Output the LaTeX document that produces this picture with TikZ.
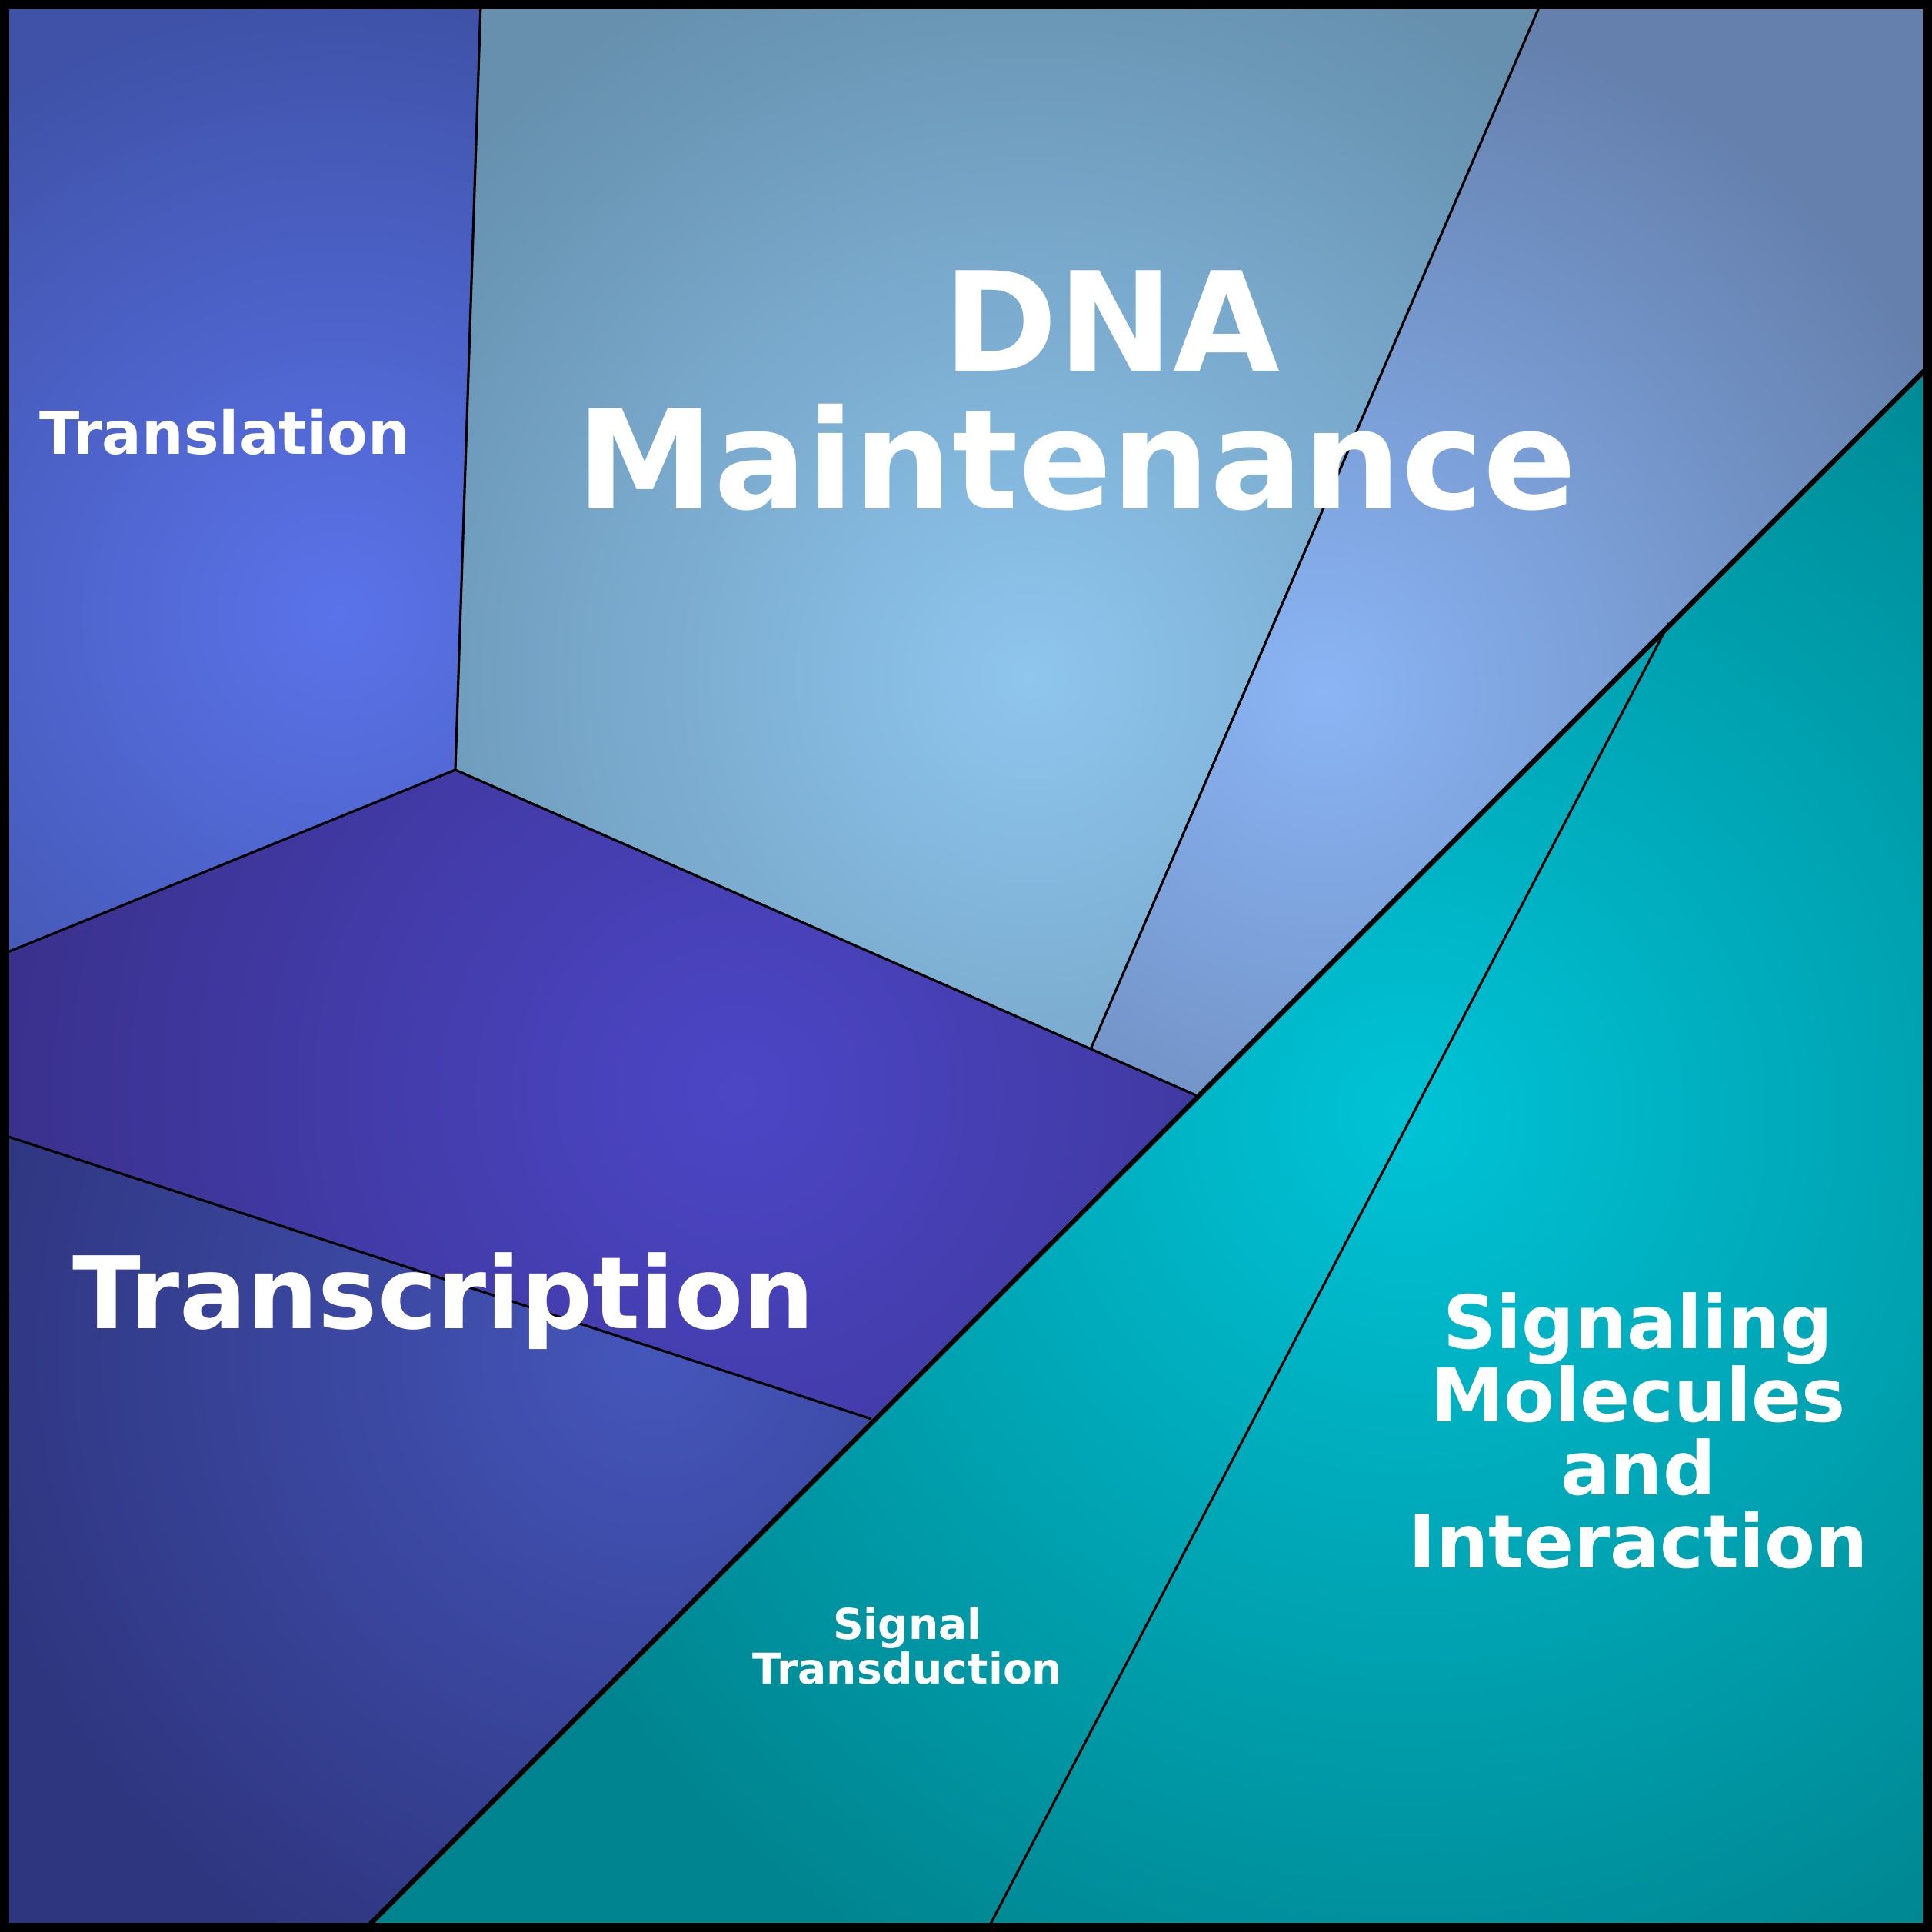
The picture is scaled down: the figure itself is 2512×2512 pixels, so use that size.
\documentclass[tikz,border=0pt]{standalone}
\usepackage{fontspec}
\setmainfont{DejaVu Sans}
\begin{document}
\begin{tikzpicture}[x=0.01cm,y=-0.01cm,
  lbl/.style={text=white,font=\bfseries,align=center,inner sep=0pt},
  edge/.style={line width=0.9pt}]
\useasboundingbox (0,0) rectangle (2512,2512);
\newcommand{\cell}[5]{%
  \begin{scope}\clip #1;
  \fill[#3] (0,0) rectangle (2512,2512);
  \shade[inner color=#2,outer color=#3] #4 circle (#5);
  \end{scope}}
\definecolor{trA}{HTML}{5B73EA}\definecolor{trB}{HTML}{3F52A8}
\definecolor{dnA}{HTML}{8FC6EE}\definecolor{dnB}{HTML}{6690AE}
\definecolor{rbA}{HTML}{8BB5F5}\definecolor{rbB}{HTML}{6580AD}
\definecolor{tsA}{HTML}{4C46C6}\definecolor{tsB}{HTML}{39308A}
\definecolor{tbA}{HTML}{4556BB}\definecolor{tbB}{HTML}{2F3680}
\definecolor{sgA}{HTML}{00C3D6}\definecolor{sgB}{HTML}{00848F}
\cell{(5,5)--(625,5)--(592,1001)--(5,1240)--cycle}{trA}{trB}{(440,800)}{800}
\cell{(625,5)--(2003,5)--(1418,1364)--(592,1001)--cycle}{dnA}{dnB}{(1340,880)}{1000}
\cell{(2003,5)--(2507,5)--(2507,477)--(1555,1424)--(1418,1364)--cycle}{rbA}{rbB}{(1720,900)}{900}
\cell{(5,1240)--(592,1001)--(1555,1424)--(1133,1845)--(5,1476)--cycle}{tsA}{tsB}{(960,1420)}{1000}
\cell{(5,1476)--(1133,1845)--(476,2507)--(5,2507)--cycle}{tbA}{tbB}{(850,1760)}{900}
\cell{(1555,1424)--(2170,810)--(1285,2507)--(476,2507)--cycle}{sgA}{sgB}{(1830,1450)}{1300}
\cell{(2170,810)--(2507,477)--(2507,2507)--(1285,2507)--cycle}{sgA}{sgB}{(1830,1450)}{1300}
\coordinate (a) at (625,5); \coordinate (b) at (592,1001);
\coordinate (c) at (5,1240); \coordinate (d) at (2003,5);
\coordinate (e) at (1418,1364); \coordinate (f) at (1555,1424);
\coordinate (g) at (5,1476); \coordinate (h) at (1133,1845);
\coordinate (i) at (2170,810); \coordinate (j) at (1285,2507);
\coordinate (k) at (476,2507); \coordinate (l) at (2507,477);
\draw[edge] (a)--(b)--(c); \draw[edge] (b)--(f);
\draw[edge] (d)--(e); \draw[edge] (g)--(h);
\draw[edge] (i)--(j);
\draw[line width=1.8pt] (k)--(l);
\draw[line width=4pt] (5,5) rectangle (2507,2507);
\node[lbl,font=\bfseries\fontsize{21.8}{24}\selectfont] (tl) at (292,562) {Translation};
\node[lbl,font=\bfseries\fontsize{51}{51}\selectfont] (dna) at (1400,508) {\hspace*{0.9cm}DNA\\Maintenance};
\node[lbl,font=\bfseries\fontsize{37}{40}\selectfont] (tc) at (577,1692) {Transcription};
\node[lbl,font=\bfseries\fontsize{27.3}{27}\selectfont] (sm) at (2130,1860) {Signaling\\Molecules\\and\\Interaction};
\node[lbl,font=\bfseries\fontsize{15.7}{15}\selectfont] (st) at (1180,2140) {Signal\\Transduction};
\end{tikzpicture}
\end{document}
